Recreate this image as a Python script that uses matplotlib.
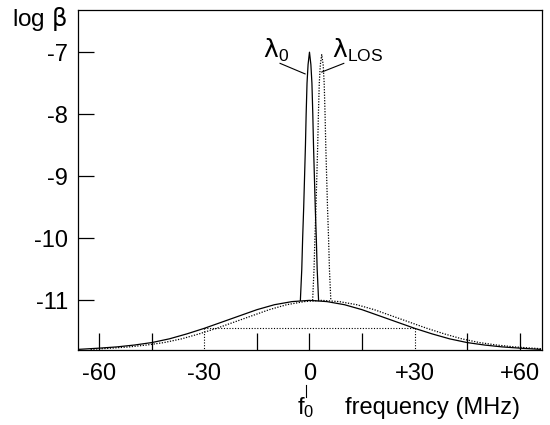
import numpy as np
import matplotlib
matplotlib.use("Agg")
import matplotlib.pyplot as plt
import matplotlib.transforms as mtransforms

plt.rcParams['font.family'] = ['Liberation Sans', 'DejaVu Sans']
plt.rcParams['mathtext.fontset'] = 'custom'
plt.rcParams['mathtext.rm'] = 'Liberation Sans'
plt.rcParams['mathtext.it'] = 'Liberation Sans'
plt.rcParams['mathtext.sf'] = 'DejaVu Sans'

# broad (Doppler) profile: frequency in MHz, log beta
broad_f = [-66, -60, -55, -50, -45, -40, -35, -30, -25, -20, -15, -10, -5, 0,
           5, 10, 15, 20, 25, 30, 35, 40, 45, 50, 55, 60, 66]
broad_solid = [-11.79, -11.77, -11.75, -11.72, -11.68, -11.62, -11.54, -11.45, -11.35,
               -11.25, -11.15, -11.07, -11.02, -11.00, -11.02, -11.07, -11.15, -11.25,
               -11.35, -11.45, -11.54, -11.62, -11.68, -11.72, -11.75, -11.77, -11.79]
los_shift = 3.5  # MHz, centre of the dotted (LOS) curves
broad_dotted = [-11.79, -11.77, -11.75, -11.72, -11.68, -11.62, -11.54, -11.45, -11.35,
                -11.25, -11.15, -11.07, -11.02, -11.00, -11.02, -11.07, -11.15, -11.25,
                -11.35, -11.45, -11.54, -11.62, -11.68, -11.72, -11.75, -11.77, -11.79]

# narrow peaks: half width (MHz) at each log beta level
spike_level = [-11.0, -10.5, -10.0, -9.5, -9.0, -8.5, -8.0, -7.5, -7.2, -7.0]
spike_halfw = [2.6, 2.2, 1.95, 1.65, 1.4, 1.15, 0.95, 0.7, 0.4, 0.0]
peak_solid = -7.0
peak_dotted = -7.04

# half-height marker
mark_f = 30
mark_level = -11.45

xmajor = [-60, -45, -15, 0, 15, 45, 60]
xmajor_labels = ['-60', '', '', '0', '', '', '+60']
xmid = [-30, 30]
xmid_labels = ['-30', '+30']
yticks = [-7, -8, -9, -10, -11]

fig = plt.figure(figsize=(5.5, 4.25), dpi=100)
ax = fig.add_axes([78 / 550, 1 - 350 / 425, 464 / 550, 340 / 425])

ax.plot(broad_f, broad_solid, color='black', lw=0.9)
ax.plot(np.array(broad_f) + los_shift, broad_dotted, color='black', lw=0.9,
        linestyle=(0, (1, 1.2)))

lv = np.array(spike_level)
hw = np.array(spike_halfw)
sx = np.concatenate([-hw, hw[::-1][1:]])
sy = np.concatenate([lv, lv[::-1][1:]])
sy_solid = np.where(sy == -7.0, peak_solid, sy)
sy_dot = np.where(sy == -7.0, peak_dotted, sy)
ax.plot(sx, sy_solid, color='black', lw=0.9)
ax.plot(sx + los_shift, sy_dot, color='black', lw=0.9, linestyle=(0, (1, 1.2)))

dot = dict(color='black', lw=0.8, linestyle=(0, (1, 1.5)))
ax.plot([-mark_f, mark_f], [mark_level, mark_level], **dot)
ax.plot([-mark_f, -mark_f], [mark_level, -11.8], **dot)
ax.plot([mark_f, mark_f], [mark_level, -11.8], **dot)

ax.set_xlim(-66.1, 66.4)
ax.set_ylim(-11.8, -6.32)

ax.set_xticks(xmajor)
ax.set_xticklabels(xmajor_labels)
ax.set_xticks(xmid, minor=True)
ax.set_xticklabels(xmid_labels, minor=True)
ax.set_yticks(yticks)
ax.set_yticklabels([str(t) for t in yticks])
ax.tick_params(axis='x', which='major', direction='in', length=12, width=0.9,
               pad=9, labelsize=17)
ax.tick_params(axis='x', which='minor', length=0, pad=9, labelsize=17)
ax.tick_params(axis='y', direction='in', length=11.5, width=0.9, pad=7, labelsize=17)
for s in ax.spines.values():
    s.set_linewidth(0.9)

# peak labels
ax.text(-9.6, -6.97, r'$\mathsf{\lambda}_{\mathregular{0}}$', fontsize=18,
        ha='center', va='center')
ax.plot([-8.4, -1.25], [-7.18, -7.35], color='black', lw=0.8)
ax.text(6.4, -6.97, r'$\mathsf{\lambda}_{\mathregular{LOS}}$', fontsize=18,
        ha='left', va='center')
ax.plot([3.5, 9.8], [-7.32, -7.18], color='black', lw=0.8)

# axis labels
fig.text(12 / 550, 1 - 19 / 425, r'log $\mathsf{\beta}$', fontsize=17.5, ha='left', va='center')
trans = mtransforms.blended_transform_factory(ax.transData, fig.transFigure)
ax.plot([-0.9, -0.9], [1 - 385 / 425, 1 - 397 / 425], color='black', lw=0.8,
        transform=trans, clip_on=False)
ax.text(-1.2, 1 - 408 / 425, r'$\mathregular{f_0}$', fontsize=17, ha='center', va='center',
        transform=trans)
fig.text(345 / 550, 1 - 408 / 425, 'frequency (MHz)', fontsize=17, ha='left', va='center')

fig.savefig('out.png', dpi=100)
